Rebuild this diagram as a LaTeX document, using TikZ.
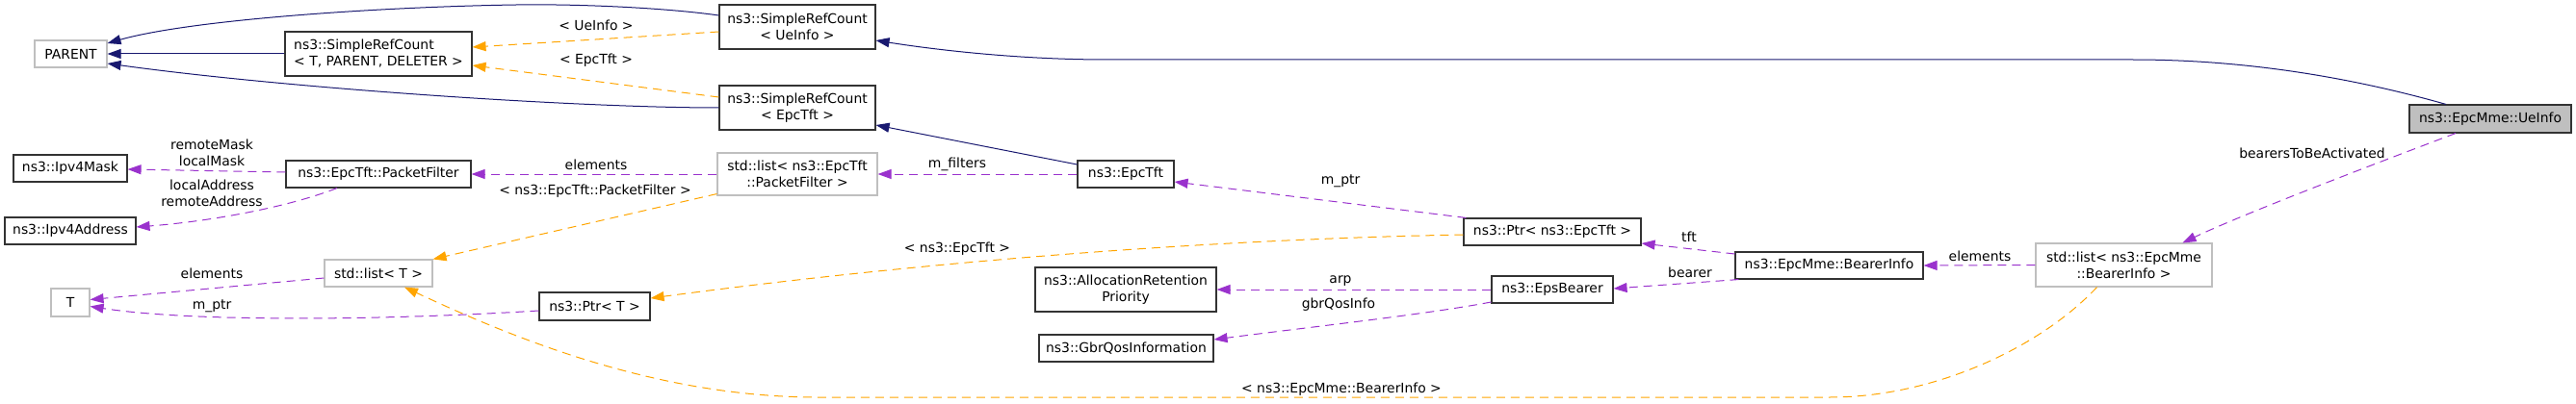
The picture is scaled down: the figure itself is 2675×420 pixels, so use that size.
\documentclass[tikz,border=0pt]{standalone}
\usepackage{fontspec}
\setmainfont{DejaVu Sans}
\usetikzlibrary{arrows.meta,calc}
\definecolor{inhc}{HTML}{191970}
\definecolor{usec}{HTML}{9A32CD}
\definecolor{tmplc}{HTML}{FFA500}
\definecolor{greyb}{HTML}{BFBFBF}
\definecolor{boxb}{HTML}{333333}
\begin{document}
\begin{tikzpicture}[x=1pt,y=-1pt,
  every node/.style={font=\fontsize{13.9pt}{17pt}\selectfont, inner sep=0pt},
  cls/.style 2 args={draw=boxb, line width=1.1pt, fill=white, minimum width=#1pt, minimum height=#2pt, align=center},
  ext/.style 2 args={draw=greyb, line width=1.1pt, fill=white, minimum width=#1pt, minimum height=#2pt, align=center},
  cur/.style 2 args={draw=boxb, line width=1.1pt, fill=greyb, minimum width=#1pt, minimum height=#2pt, align=center},
  lbl/.style={anchor=center, align=center},
  inh/.style={draw=inhc, line width=1pt, -{Triangle[length=14pt,width=10pt]}},
  use/.style={draw=usec, line width=1pt, dash pattern=on 9pt off 6pt, -{Triangle[length=14pt,width=10pt]}},
  tmpl/.style={draw=tmplc, line width=1pt, dash pattern=on 9pt off 6pt, -{Triangle[length=14pt,width=10pt]}}
]
\useasboundingbox (0,0) rectangle (2675,420);

% nodes
\node[ext={75}{28}] (parent) at (73.5,56) {PARENT};
\node[cls={194}{46}, align=left] (srcT) at (393,56) {ns3::SimpleRefCount\\< T, PARENT, DELETER >};
\node[cls={162}{46}] (srcUe) at (828,28) {ns3::SimpleRefCount\\< UeInfo >};
\node[cls={162}{46}] (srcTft) at (828,112) {ns3::SimpleRefCount\\< EpcTft >};
\node[ext={166}{44}] (listPF) at (828,181) {std::list< ns3::EpcTft\\::PacketFilter >};
\node[cls={100}{28}] (epctft) at (1169,181) {ns3::EpcTft};
\node[cls={118}{28}] (ipv4mask) at (73,175) {ns3::Ipv4Mask};
\node[cls={192}{28}] (pf) at (393,181) {ns3::EpcTft::PacketFilter};
\node[cls={136}{28}] (ipv4addr) at (73,240) {ns3::Ipv4Address};
\node[ext={112}{28}] (listT) at (393,284) {std::list< T >};
\node[ext={40}{29}] (T) at (73,314.5) {T};
\node[cls={115}{29}] (ptrT) at (617.5,318.5) {ns3::Ptr< T >};
\node[cls={188}{46}] (arp) at (1169,301) {ns3::AllocationRetention\\Priority};
\node[cls={181}{28}] (gbr) at (1169.5,362) {ns3::GbrQosInformation};
\node[cls={184}{28}] (ptrTft) at (1612,241) {ns3::Ptr< ns3::EpcTft >};
\node[cls={126}{28}] (epsb) at (1612,301) {ns3::EpsBearer};
\node[cls={195}{28}] (bearerinfo) at (1899.5,276) {ns3::EpcMme::BearerInfo};
\node[ext={183}{45}] (listBI) at (2205.5,275.5) {std::list< ns3::EpcMme\\::BearerInfo >};
\node[cur={168}{29}] (ueinfo) at (2586,123.5) {ns3::EpcMme::UeInfo};

% inheritance edges
\draw[inh] ($(ueinfo.north)+(-46,0)$) .. controls (2440,80) and (2330,62) .. (2215,62)
  -- (1150,62) .. controls (1050,62) and (960,50) .. ($(srcUe.east)+(0,14)$);
\draw[inh] ($(srcUe.west)+(0,-12)$) .. controls (690,8) and (600,4) .. (536,5)
  .. controls (400,7) and (200,20) .. ($(parent.east)+(0,-11)$);
\draw[inh] (srcT.west) -- (parent.east);
\draw[inh] (srcTft.west) .. controls (600,112) and (300,92) .. ($(parent.east)+(0,10)$);
\draw[inh] ($(epctft.west)+(0,-10)$) -- ($(srcTft.east)+(0,18)$);

% template edges
\draw[tmpl] ($(srcUe.west)+(0,5)$) -- ($(srcT.east)+(0,-7)$);
\draw[tmpl] ($(srcTft.west)+(0,-11)$) -- ($(srcT.east)+(0,12)$);
\draw[tmpl] ($(listPF.south west)+(0,-2)$) -- (listT.north east);
\draw[tmpl] ($(ptrTft.west)+(0,3)$) .. controls (1200,250) and (900,280) .. ($(ptrT.east)+(0,-8.5)$);
\draw[tmpl] ($(listBI.south)+(-28,0)$) .. controls (2120,360) and (2010,413) .. (1900,413)
  -- (850,413) .. controls (680,413) and (530,350) .. ($(listT.south)+(27,0)$);

% usage edges
\draw[use] (listPF.west) -- (pf.east);
\draw[use] (epctft.west) -- (listPF.east);
\draw[use] ($(pf.west)+(0,-2)$) -- ($(ipv4mask.east)+(0,1)$);
\draw[use] ($(pf.south)+(-43,0)$) .. controls (300,215) and (220,230) .. ($(ipv4addr.east)+(0,-4)$);
\draw[use] ($(listT.west)+(0,5)$) -- ($(T.east)+(0,-3)$);
\draw[use] ($(ptrT.west)+(0,4.5)$) .. controls (400,333) and (200,335) .. ($(T.east)+(0,4)$);
\draw[use] ($(ptrTft.north west)+(3,0)$) -- ($(epctft.east)+(0,8)$);
\draw[use] ($(bearerinfo.west)+(0,-12)$) -- ($(ptrTft.east)+(0,12)$);
\draw[use] ($(bearerinfo.south west)+(4,0)$) -- ($(epsb.east)+(0,-1)$);
\draw[use] (epsb.west) -- (arp.east);
\draw[use] ($(epsb.west)+(0,13)$) .. controls (1480,327) and (1360,340) .. ($(gbr.east)+(0,-9)$);
\draw[use] (listBI.west) -- (bearerinfo.east);
\draw[use] ($(ueinfo.south)+(-36,0)$) .. controls (2480,165) and (2330,222) .. ($(listBI.north)+(61,0)$);

% labels
\node[lbl] (l1) at (619,26) {< UeInfo >};
\node[lbl] (l2) at (619,63) {< EpcTft >};
\node[lbl] (l3) at (220,158.5) {remoteMask\\localMask};
\node[lbl] (l4) at (220,201) {localAddress\\remoteAddress};
\node[lbl] (l5) at (619,171) {elements};
\node[lbl] (l6) at (994,171) {m\_filters};
\node[lbl] (l7) at (618,199) {< ns3::EpcTft::PacketFilter >};
\node[lbl] (l8) at (220,284) {elements};
\node[lbl] (l9) at (220,318) {m\_ptr};
\node[lbl] (l10) at (994,259) {< ns3::EpcTft >};
\node[lbl] (l11) at (1392,188) {m\_ptr};
\node[lbl] (l12) at (1754,246) {tft};
\node[lbl] (l13) at (1755,283) {bearer};
\node[lbl] (l14) at (1392,292) {arp};
\node[lbl] (l15) at (1390,317) {gbrQosInfo};
\node[lbl] (l16) at (2056,266) {elements};
\node[lbl] (l17) at (2401,159) {bearersToBeActivated};
\node[lbl] (l18) at (1393,405) {< ns3::EpcMme::BearerInfo >};
\end{tikzpicture}
\end{document}
